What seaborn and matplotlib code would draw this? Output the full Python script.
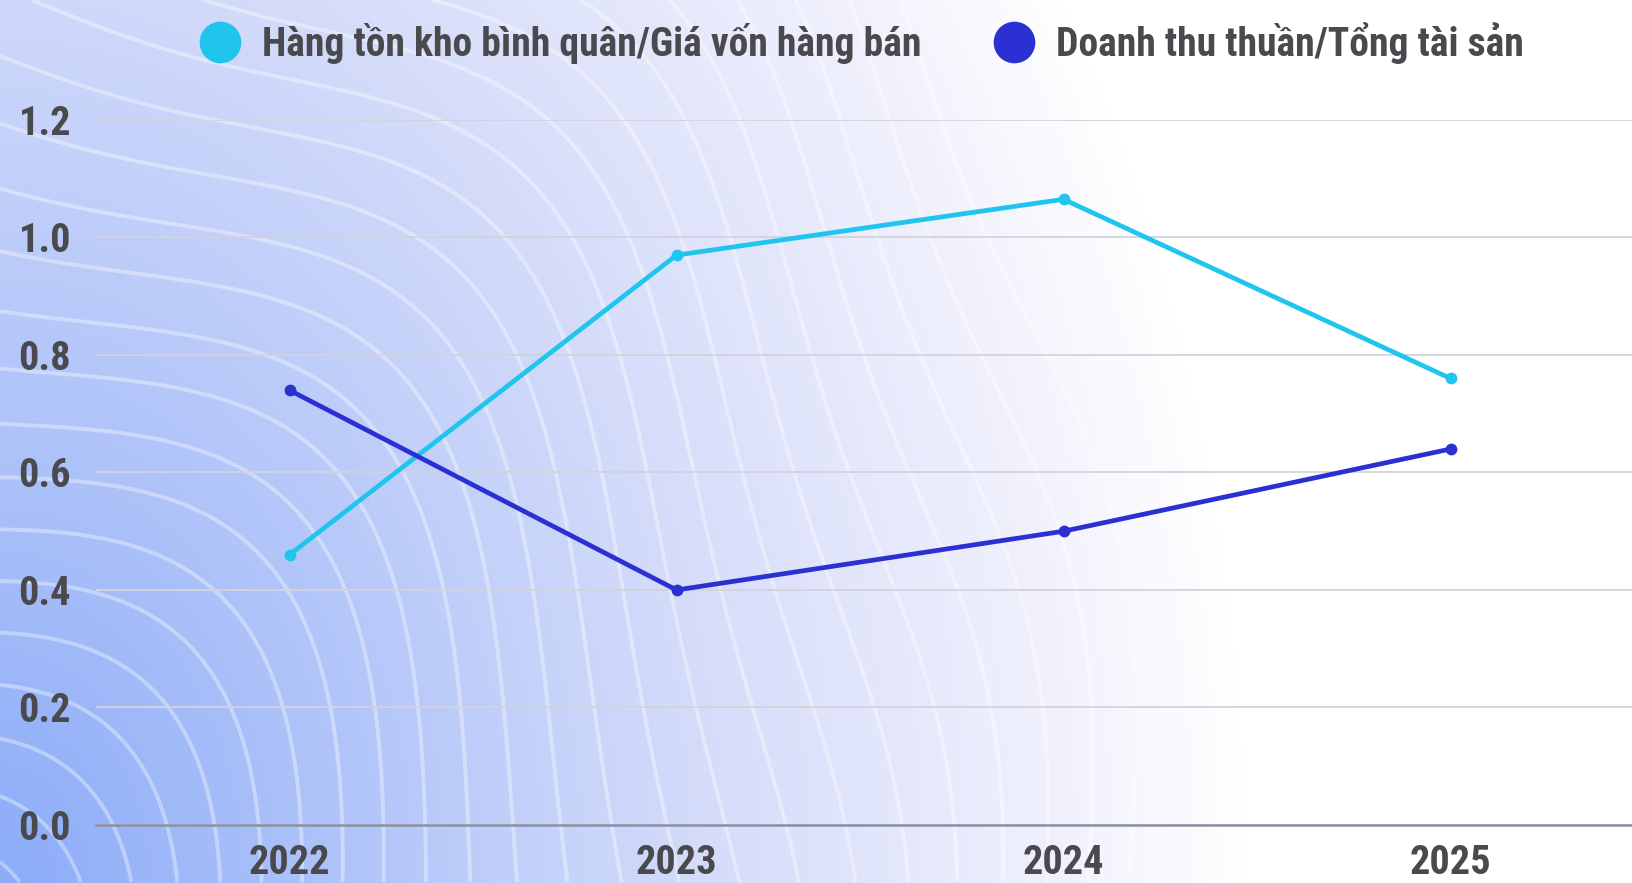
import numpy as np
import pandas as pd
import matplotlib
matplotlib.use("Agg")
import matplotlib.pyplot as plt
import seaborn as sns
from matplotlib import font_manager as fm
from matplotlib.colors import LinearSegmentedColormap
from matplotlib.lines import Line2D

# ---------------- data ----------------
years = ["2022", "2023", "2024", "2025"]
inventory_to_cogs = [0.46, 0.97, 1.065, 0.76]
revenue_to_assets = [0.74, 0.40, 0.50, 0.64]
series_names = ["Hàng tồn kho bình quân/Giá vốn hàng bán",
                "Doanh thu thuần/Tổng tài sản"]
y_ticks = [0.0, 0.2, 0.4, 0.6, 0.8, 1.0, 1.2]
y_tick_labels = ["0.0", "0.2", "0.4", "0.6", "0.8", "1.0", "1.2"]
series_colors = ["#20c5ee", "#2a30d2"]

# ---------------- style ----------------
sns.set_theme(style="white")
avail = {f.name for f in fm.fontManager.ttflist}
FONT = "DejaVu Sans"
for cand in ["Roboto Condensed", "Liberation Sans Narrow", "Open Sans Condensed",
             "Noto Sans Condensed", "Roboto", "DejaVu Sans"]:
    if cand in avail:
        FONT = cand
        break
plt.rcParams["font.family"] = [FONT, "DejaVu Sans"]
TXT = "#4a4a4e"

W, H = 1633, 883
fig = plt.figure(figsize=(W / 100, H / 100), dpi=100)

# ---------------- background ----------------
bg = fig.add_axes([0, 0, 1, 1], zorder=-10)
X, Y = np.meshgrid(np.arange(W, dtype=float), np.arange(H, dtype=float))
d = np.sqrt((X / 1250.0) ** 2 + ((H - Y) / 1700.0) ** 2)
t = np.clip(1 - d, 0, 1)
cmap = LinearSegmentedColormap.from_list(
    "bg", [(0, "#ffffff"), (0.15, "#f1f1fd"), (0.42, "#d6ddfa"), (0.75, "#adc2f9"),
           (1.0, "#8cacf8")])
bg.imshow(t, cmap=cmap, extent=(0, W, H, 0), aspect="auto", vmin=0, vmax=1,
          interpolation="bilinear")
p = 2.6
R = ((np.abs(X + 150) / 820.0) ** p + (np.abs(1050 - Y) / 980.0) ** p) ** (1 / p)
R = R + 0.035 * np.sin(X / 140.0 + Y / 210.0)
bg.contour(X, Y, R, levels=np.arange(0.10, 1.6, 0.058), colors="white",
           linewidths=2.8, alpha=0.36)
bg.set_xlim(0, W)
bg.set_ylim(H, 0)
bg.axis("off")

# ---------------- main axes ----------------
ax = fig.add_axes([0.0588, 0.0657, 0.948, 0.7984])
ax.patch.set_alpha(0)

df = pd.DataFrame({
    "year": years * 2,
    "value": inventory_to_cogs + revenue_to_assets,
    "series": [series_names[0]] * len(years) + [series_names[1]] * len(years),
})
sns.lineplot(data=df, x="year", y="value", hue="series", hue_order=series_names,
             palette=series_colors, marker="o", markersize=8.5, markeredgewidth=0,
             linewidth=3.4, sort=False, legend=False, ax=ax)

ax.set_xlim(-0.5, 3.5)
ax.set_ylim(0, 1.2)
ax.set_yticks(y_ticks)
ax.set_yticklabels(y_tick_labels)
ax.set_xlabel("")
ax.set_ylabel("")
ax.yaxis.grid(True, color="#d2d3dc", linewidth=1.3)
ax.xaxis.grid(False)
for s in ["left", "right", "top"]:
    ax.spines[s].set_visible(False)
ax.spines["bottom"].set_color("#8a90a6")
ax.spines["bottom"].set_linewidth(1.8)
ax.tick_params(axis="both", length=0, labelsize=29, labelcolor=TXT)
ax.tick_params(axis="y", pad=18)
ax.tick_params(axis="x", pad=14)
for lab in ax.get_xticklabels() + ax.get_yticklabels():
    lab.set_fontweight("heavy")
    lab.set_fontstretch("condensed")

handles = [Line2D([], [], ls="", marker="o", markersize=30, markeredgewidth=0,
                  color=c) for c in series_colors]
leg = fig.legend(handles, series_names, loc="center", bbox_to_anchor=(0.5218, 0.951),
                 ncol=2, frameon=False, handletextpad=0.05, columnspacing=1.35,
                 prop={"size": 28.5, "weight": "heavy", "stretch": "condensed"})
for txt in leg.get_texts():
    txt.set_color(TXT)

fig.savefig("out.png", dpi=100)
